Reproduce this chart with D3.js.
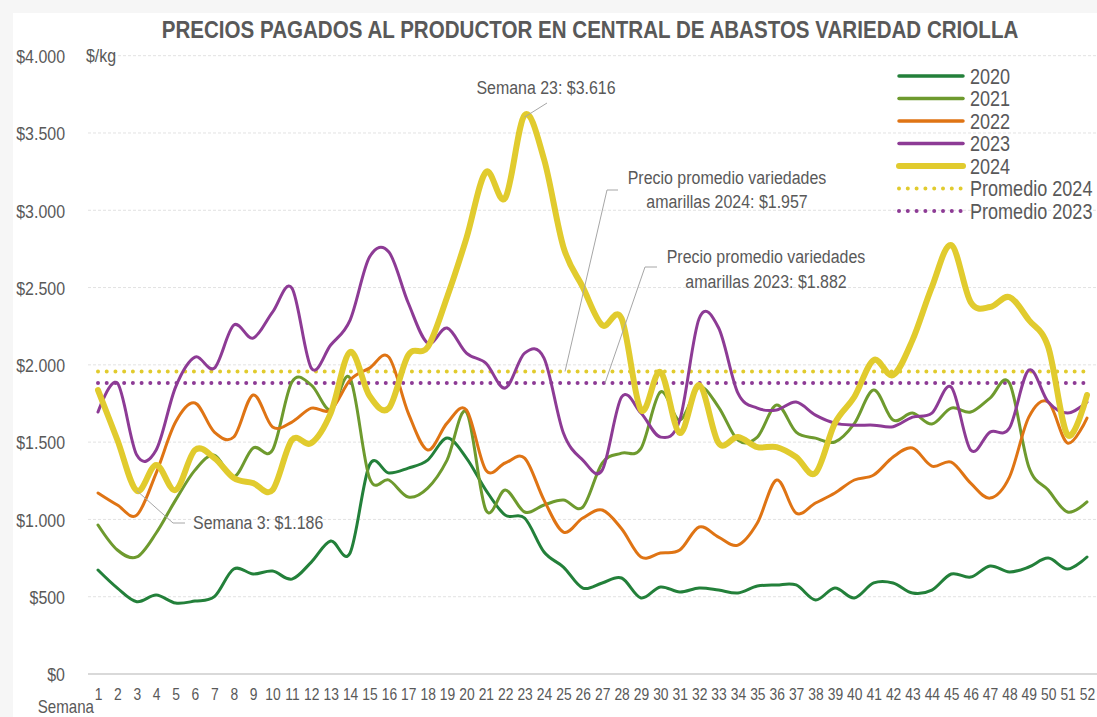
<!DOCTYPE html>
<html>
<head>
<meta charset="utf-8">
<script src="https://cdn.jsdelivr.net/npm/d3@7"></script>
<style>
  html, body { margin: 0; padding: 0; background: #fff; }
  svg { display: block; font-family: "Liberation Sans", Arial, sans-serif; }
</style>
</head>
<body>
<svg id="chart" width="1097" height="717"></svg>
<script>
// semanas 1..52
var weeks = d3.range(1, 53);

var yTicks = [0, 500, 1000, 1500, 2000, 2500, 3000, 3500, 4000];

var years = ['2020', '2021', '2022', '2023', '2024'];

var v2020 = [673, 556, 468, 511, 459, 472, 500, 679, 647, 666, 614, 724, 860, 783, 1352, 1300, 1332, 1384, 1526, 1397,
  1190, 1028, 1009, 789, 692, 556, 589, 621, 492, 563, 530, 556, 543, 524, 569, 576, 576, 479, 556, 492,
  589, 589, 524, 543, 647, 627, 699, 660, 692, 750, 679, 757];

var v2021 = [964, 802, 757, 912, 1125, 1319, 1416, 1274, 1462, 1449, 1889, 1869, 1708, 1914, 1268, 1255, 1145, 1203, 1384, 1695,
  1061, 1190, 1048, 1093, 1125, 1080, 1365, 1429, 1460, 1824, 1643, 1856, 1727, 1513, 1533, 1740, 1565, 1526, 1501, 1620,
  1837, 1643, 1688, 1617, 1720, 1695, 1785, 1882, 1339, 1190, 1048, 1113];

var v2022 = [1171, 1093, 1028, 1300, 1630, 1753, 1565, 1533, 1805, 1598, 1630, 1720, 1708, 1902, 1979, 2050, 1688, 1449, 1623, 1708,
  1319, 1365, 1397, 1125, 918, 1009, 1061, 940, 757, 783, 802, 951, 886, 834, 977, 1255, 1041, 1106, 1171, 1255,
  1287, 1404, 1462, 1345, 1371, 1235, 1138, 1274, 1662, 1759, 1494, 1656];

var v2023 = [1695, 1882, 1416, 1449, 1856, 2050, 1979, 2257, 2173, 2341, 2497, 1979, 2128, 2290, 2697, 2730, 2400, 2141, 2238, 2076,
  2011, 1850, 2076, 2044, 1559, 1384, 1319, 1792, 1688, 1533, 1643, 2300, 2240, 1817, 1720, 1708, 1759, 1675, 1623, 1610,
  1610, 1600, 1662, 1688, 1856, 1449, 1565, 1591, 1966, 1760, 1688, 1759];

var v2024 = [1837, 1514, 1186, 1352, 1190, 1449, 1397, 1268, 1235, 1190, 1514, 1494, 1688, 2083, 1800, 1720, 2063, 2115, 2438, 2820,
  3247, 3079, 3616, 3330, 2762, 2503, 2257, 2300, 1708, 1953, 1559, 1869, 1494, 1533, 1468, 1468, 1404, 1300, 1623, 1792,
  2031, 1934, 2160, 2503, 2775, 2406, 2374, 2438, 2290, 2115, 1546, 1805];

var prom2024 = 1957;
var prom2023 = 1882;

var colors = {'2020': '#23803a', '2021': '#6e9a2e', '2022': '#df7414', '2023': '#8d3b95', '2024': '#e1cb2e'};
var widths = {'2020': 3, '2021': 3, '2022': 3, '2023': 3, '2024': 6};
var series = {'2020': v2020, '2021': v2021, '2022': v2022, '2023': v2023, '2024': v2024};

var SX = 0.84;       // texto algo angosto como en el original
var textColor = '#595959';

var svg = d3.select('#chart');

// fondo
svg.append('rect').attr('width', 1097).attr('height', 717).attr('fill', '#f6f6f6');
svg.append('rect').attr('x', 13).attr('y', 13).attr('width', 1084).attr('height', 704).attr('fill', '#fff');

var x = d3.scalePoint().domain(weeks).range([98, 1087]);
var y = d3.scaleLinear().domain([0, 4000]).range([674, 55.7]);
var plotLeft = 88, plotRight = 1097;

function addText(parent, px, py, str, size, anchor, weight) {
  var g = parent.append('g').attr('transform', 'translate(' + px + ',' + py + ') scale(' + SX + ',1)');
  g.append('text')
    .attr('text-anchor', anchor || 'start')
    .attr('font-size', size)
    .attr('font-weight', weight || 'normal')
    .attr('fill', textColor)
    .text(str);
  return g;
}

// grid
svg.append('g').selectAll('line')
  .data(yTicks.filter(function(d){ return d > 0; }))
  .enter().append('line')
  .attr('x1', plotLeft).attr('x2', plotRight)
  .attr('y1', function(d){ return y(d); }).attr('y2', function(d){ return y(d); })
  .attr('stroke', '#e2e2e2').attr('stroke-width', 1).attr('stroke-dasharray', '3,2');

// eje y
var fmt = function(d){ return '$' + d3.format(',')(d).replace(/,/g, '.'); };
var yAxis = svg.append('g')
  .attr('transform', 'translate(' + plotLeft + ',0)')
  .call(d3.axisLeft(y).tickValues(yTicks).tickSize(0).tickFormat(fmt));
yAxis.select('.domain').remove();
yAxis.selectAll('text')
  .attr('x', -23 / SX)
  .attr('dy', '0.36em')
  .attr('transform', 'scale(' + SX + ',1)')
  .attr('font-size', 19)
  .attr('font-family', '"Liberation Sans", Arial, sans-serif')
  .attr('fill', textColor);

// eje x
var xAxis = svg.append('g')
  .attr('transform', 'translate(0,' + y(0) + ')')
  .call(d3.axisBottom(x).tickSize(0));
xAxis.select('.domain').remove();
xAxis.selectAll('text')
  .attr('y', 26).attr('dy', 0)
  .attr('transform', 'scale(' + SX + ',1)')
  .attr('font-size', 16.5)
  .attr('font-family', '"Liberation Sans", Arial, sans-serif')
  .attr('fill', textColor);

svg.append('line')
  .attr('x1', plotLeft).attr('x2', plotRight)
  .attr('y1', y(0)).attr('y2', y(0))
  .attr('stroke', '#d9d9d9').attr('stroke-width', 2);

// promedios (punteados)
function dotted(val, col) {
  svg.append('line')
    .attr('x1', x(1)).attr('x2', x(52))
    .attr('y1', y(val)).attr('y2', y(val))
    .attr('stroke', col).attr('stroke-width', 4)
    .attr('stroke-linecap', 'round')
    .attr('stroke-dasharray', '0,8.72');
}
dotted(prom2024, colors['2024']);
dotted(prom2023, colors['2023']);

// series
var line = d3.line()
  .x(function(d, i){ return x(weeks[i]); })
  .y(function(d){ return y(d); })
  .curve(d3.curveCatmullRom.alpha(0));

years.forEach(function(yr){
  svg.append('path')
    .datum(series[yr])
    .attr('d', line)
    .attr('fill', 'none')
    .attr('stroke', colors[yr])
    .attr('stroke-width', widths[yr])
    .attr('stroke-linejoin', 'round')
    .attr('stroke-linecap', 'round');
});

// titulo
addText(svg, 590, 38, 'PRECIOS PAGADOS AL PRODUCTOR EN CENTRAL DE ABASTOS VARIEDAD CRIOLLA', 24.5, 'middle', 'bold');

addText(svg, 86, 62, '$/kg', 19);
addText(svg, 94, 713, 'Semana', 18, 'end');

// anotaciones
var ann = svg.append('g');
function leader(pts) {
  ann.append('path')
    .attr('d', d3.line()(pts))
    .attr('fill', 'none').attr('stroke', '#a6a6a6').attr('stroke-width', 1);
}
leader([[x(23), y(3616) + 2], [547, 103]]);
addText(ann, 546, 94, 'Semana 23: $3.616', 19, 'middle');

leader([[x(3), y(1186)], [173, 523], [185, 523]]);
addText(ann, 193, 529, 'Semana 3: $1.186', 19);

leader([[565, y(prom2024)], [607, 190], [618, 190]]);
addText(ann, 727, 184, 'Precio promedio variedades', 19, 'middle');
addText(ann, 727, 208, 'amarillas 2024: $1.957', 19, 'middle');

leader([[605, y(prom2023)], [645, 267], [657, 267]]);
addText(ann, 766, 263, 'Precio promedio variedades', 19, 'middle');
addText(ann, 766, 288, 'amarillas 2023: $1.882', 19, 'middle');

// leyenda
var legItems = years.map(function(yr){ return {label: yr, color: colors[yr], w: widths[yr] === 6 ? 6 : 3.5, dots: false}; })
  .concat([
    {label: 'Promedio 2024', color: colors['2024'], w: 4, dots: true},
    {label: 'Promedio 2023', color: colors['2023'], w: 4, dots: true}
  ]);

var leg = svg.append('g');
legItems.forEach(function(it, i){
  var ly = 76 + i * 22.5;
  leg.append('line')
    .attr('x1', 899).attr('x2', it.dots ? 961 : 963)
    .attr('y1', ly).attr('y2', ly)
    .attr('stroke', it.color).attr('stroke-width', it.w)
    .attr('stroke-linecap', 'round')
    .attr('stroke-dasharray', it.dots ? '0,8.8' : null);
  addText(leg, 970, ly + 7.5, it.label, 21.5);
});
</script>
</body>
</html>
